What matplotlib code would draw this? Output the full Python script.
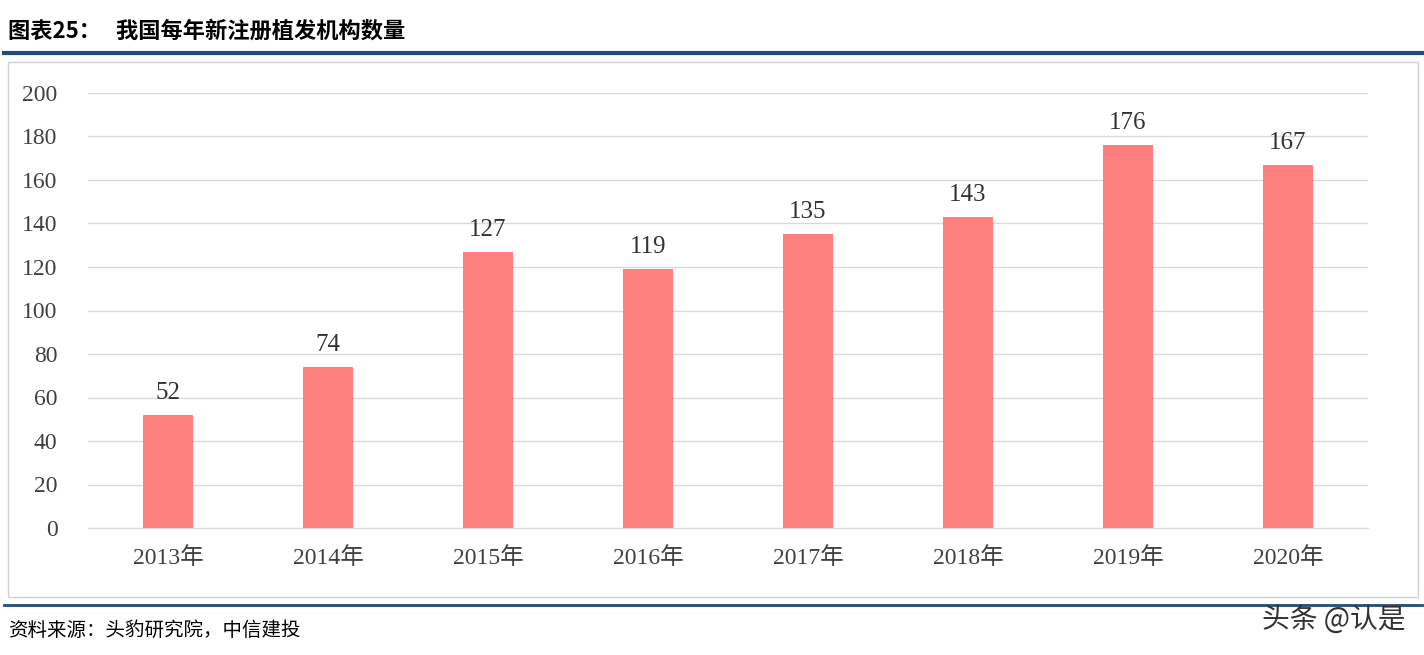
import matplotlib
matplotlib.use("Agg")
import matplotlib.pyplot as plt
from matplotlib.patches import Rectangle
from matplotlib.lines import Line2D

years = ["2013年", "2014年", "2015年", "2016年", "2017年", "2018年", "2019年", "2020年"]
counts = [52, 74, 127, 119, 135, 143, 176, 167]
yticks = [0, 20, 40, 60, 80, 100, 120, 140, 160, 180, 200]

FAM = ["Liberation Serif", "Noto Sans CJK SC"]
plt.rcParams['font.family'] = FAM

W, H = 1424, 655
fig = plt.figure(figsize=(W/100, H/100), dpi=100)

def fx(px): return px / W
def fy(py): return 1 - py / H

# header / footer
fig.text(fx(8), fy(31), "图表25：   我国每年新注册植发机构数量", fontsize=16, fontweight="bold",
         family=["Noto Sans CJK SC", "DejaVu Sans"], va="center", ha="left")
fig.add_artist(Line2D([fx(4), fx(1422)], [fy(53), fy(53)], color="#1f4e79", lw=3))
fig.add_artist(Rectangle((fx(8), fy(597)), fx(1410), fy(62) - fy(597), fill=False,
                         ec="#d0d0d0", lw=1))
fig.add_artist(Line2D([fx(4), fx(1422)], [fy(605), fy(605)], color="#1f4e79", lw=2))
fig.text(fx(8), fy(630), "资料来源：头豹研究院，中信建投", fontsize=14, style="italic",
         family=["Noto Sans CJK SC", "DejaVu Sans"], va="center", ha="left")
fig.text(fx(1405), fy(620), "头条 @认是", fontsize=20, color="#333333",
         family=["Noto Sans CJK SC", "DejaVu Sans"], va="center", ha="right")

ax = fig.add_axes([fx(88), fy(528), fx(1368) - fx(88), fy(93) - fy(528)])
x = range(len(years))
bars = ax.bar(x, counts, width=0.31, color="#ff7f7f", zorder=3)
for xi, v in zip(x, counts):
    ax.text(xi, v + 5, str(v), ha="center", va="bottom", fontsize=18, color="#333333")
ax.set_ylim(0, 200)
ax.set_xlim(-0.5, len(years) - 0.5)
ax.set_yticks(yticks)
ax.set_yticklabels([str(t) for t in yticks], fontsize=17, color="#404040")
ax.set_xticks(list(x))
ax.set_xticklabels(years, fontsize=17, color="#404040")
ax.grid(axis="y", color="#d9d9d9", lw=1, zorder=0)
for s in ["top", "right", "left"]:
    ax.spines[s].set_visible(False)
ax.spines["bottom"].set_color("#d9d9d9")
ax.tick_params(length=0, pad=14)
ax.tick_params(axis="y", pad=22)

fig.savefig("out.png", dpi=100)
